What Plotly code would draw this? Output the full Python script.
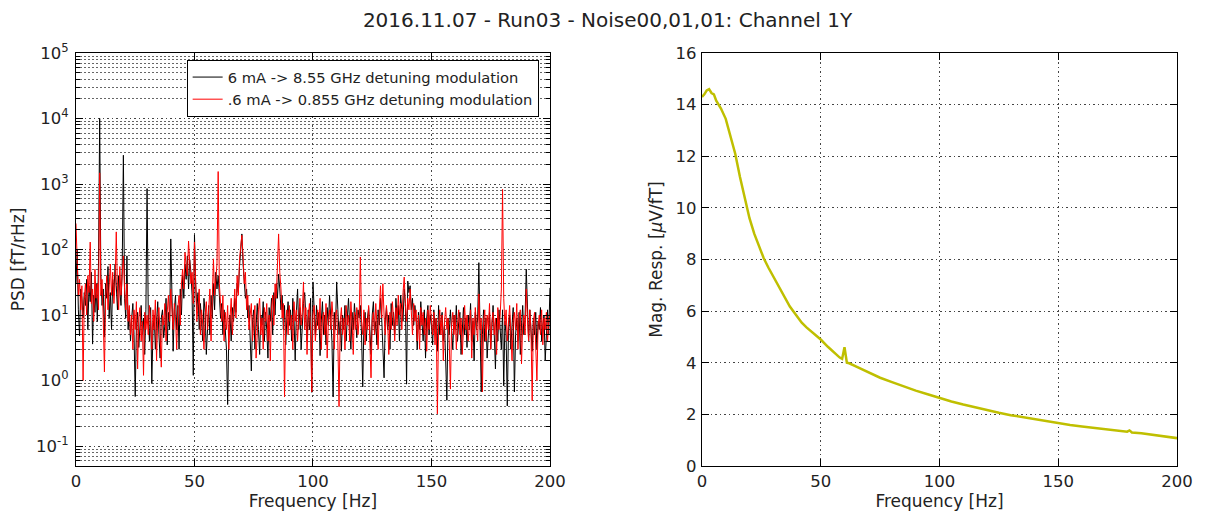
import numpy as np
import plotly.graph_objects as go

# PSD spectra, 0.5 Hz bins from 0 to 200 Hz
freq = np.arange(0, 200.5, 0.5)

psd_6mA = [
    30, 100, 12, 4.8, 25, 18, 9, 22, 14, 35, 6, 28, 16, 45, 3.6, 20, 11, 30, 8, 60,
    10000, 40, 14, 25, 4.6, 30, 18, 55, 9, 22, 6, 35, 20, 60, 28, 12, 40, 24, 14, 50,
    2750, 18, 9, 80, 6, 12, 4, 9, 15, 5, 0.57, 7, 11, 3.2, 8, 14, 5, 9, 2.5, 12,
    850, 10, 4, 13, 0.9, 6, 10, 3, 8, 16, 5, 2.2, 9, 12, 4.5, 7, 18, 3.5, 11, 6,
    145, 8, 2.8, 12, 20, 6, 14, 3, 25, 10, 40, 18, 60, 35, 80, 25, 70, 45, 20, 1.2,
    167, 30, 12, 22, 6, 15, 9, 4, 18, 11, 2.5, 8, 14, 5, 20, 9, 30, 12, 45, 25,
    40, 20, 9, 15, 5, 12, 7, 3, 0.43, 6, 10, 4, 13, 8, 18, 11, 30, 22, 55, 90,
    173, 60, 35, 18, 25, 9, 14, 5, 1.4, 8, 12, 3, 9, 15, 6, 2.5, 10, 7, 16, 4,
    11, 6, 2.2, 13, 8, 18, 5, 22, 10, 30, 18, 42, 25, 12, 20, 6, 14, 3.5, 9, 16,
    7, 12, 4, 18, 9, 2, 11, 25, 6, 13, 3, 9, 15, 22, 8, 4, 12, 6, 18, 0.66,
    32, 9, 5, 14, 7, 11, 2.4, 8, 16, 5, 10, 3.5, 13, 7, 20, 9, 4, 0.56, 11, 6,
    32, 12, 5, 8, 2.8, 10, 6, 14, 4, 9, 18, 7, 3, 11, 6, 15, 8, 4.5, 12, 9,
    14, 5, 0.8, 7, 11, 4, 9, 13, 6, 2.5, 10, 16, 5, 8, 3.5, 12, 7, 18, 9, 4,
    1.1, 8, 13, 6, 10, 3, 15, 7, 11, 5, 18, 9, 14, 4, 20, 12, 8, 25, 15, 0.88,
    33, 22, 28, 12, 18, 7, 14, 9, 3, 11, 6, 16, 8, 4, 12, 2.2, 9, 14, 5, 10,
    7, 3.5, 12, 6, 9, 2.8, 14, 5, 8, 11, 4, 7, 2, 0.5, 9, 5, 12, 6, 3, 10,
    6, 14, 4, 8, 11, 2.5, 7, 13, 5, 9, 3.2, 10, 6, 15, 4, 8, 2, 11, 6, 9,
    63, 8, 0.67, 5, 12, 4, 9, 2.2, 7, 11, 3, 6, 14, 5, 1.5, 9, 4, 12, 7, 3,
    12, 0.83, 8, 5, 0.41, 6, 10, 3, 7, 13, 0.67, 5, 9, 4, 11, 2.5, 7, 14, 5, 9,
    50, 8, 4, 12, 6, 2.8, 9, 5, 11, 3, 8, 6, 13, 4, 7, 10, 2, 6, 12, 5,
    26,
]

psd_06mA = [
    250, 45, 20, 35, 12, 28, 1.0, 18, 30, 10, 40, 22, 130, 15, 25, 8, 50, 18, 30, 12,
    1480, 20, 35, 9, 1.35, 18, 40, 12, 28, 60, 20, 45, 15, 30, 186, 25, 12, 55, 20, 35,
    80, 25, 12, 30, 8, 14, 5, 10, 3, 12, 6, 16, 1.5, 9, 13, 4, 8, 1.2, 11, 6,
    10, 5, 14, 8, 3, 12, 6, 17, 2, 9, 13, 5, 1.6, 10, 7, 15, 4, 11, 20, 8,
    25, 12, 6, 15, 9, 3, 13, 20, 7, 30, 50, 25, 90, 55, 40, 135, 60, 30, 45, 15,
    130, 20, 8, 14, 25, 5, 12, 7, 3, 10, 16, 6, 11, 25, 4, 14, 72, 20, 35, 60,
    1550, 30, 15, 8, 20, 4, 11, 6, 14, 3, 9, 18, 5, 12, 25, 9, 40, 20, 70, 110,
    165, 80, 30, 45, 12, 20, 6, 10, 15, 4, 9, 14, 2.2, 7, 12, 18, 5, 9, 3, 13,
    8, 15, 4, 10, 2, 12, 20, 7, 30, 18, 60, 173, 45, 25, 9, 15, 0.56, 8, 12, 5,
    14, 6, 10, 3, 16, 8, 12, 4, 9, 18, 7, 11, 32, 6, 13, 2.5, 9, 15, 5, 0.67,
    10, 14, 4, 8, 12, 6, 18, 3, 9, 11, 5, 15, 2.2, 8, 12, 6, 16, 9, 3, 10,
    12, 4, 0.4, 8, 13, 5, 9, 3, 14, 7, 10, 4, 16, 8, 2.5, 11, 6, 13, 5, 9,
    77, 8, 5, 12, 3.5, 9, 6, 14, 4, 1.1, 8, 11, 5, 15, 7, 3, 12, 28, 9, 30,
    10, 5, 14, 8, 2.5, 11, 6, 16, 9, 4, 13, 7, 20, 10, 15, 6, 22, 38, 14, 8,
    18, 12, 25, 9, 5, 15, 8, 12, 4, 10, 3, 13, 7, 11, 5, 9, 2.8, 12, 6, 14,
    8, 5, 11, 3.5, 9, 0.31, 7, 12, 5, 10, 2, 8, 13, 6, 9, 4, 0.74, 7, 11, 5,
    10, 3, 7, 12, 5, 9, 2.5, 8, 14, 6, 10, 4, 7, 12, 2.2, 9, 5, 13, 7, 4,
    21, 6, 9, 0.67, 8, 12, 4, 10, 6, 15, 3, 8, 11, 5, 9, 2.5, 13, 6, 10, 25,
    830, 18, 7, 12, 4, 9, 14, 5, 2, 8, 11, 6, 15, 3, 9, 12, 1.8, 7, 10, 5,
    25, 9, 4, 12, 6, 0.49, 8, 11, 3, 0.99, 7, 10, 5, 12, 3.5, 9, 6, 11, 4, 8,
    10,
]

# magnitude response
freq_resp = [0, 1, 2, 3, 4, 5, 6, 8, 10, 12, 14, 16, 18, 20, 22, 24, 26, 28, 30, 32,
             35, 37, 40, 42, 44, 46, 48, 50, 53, 56, 58, 59, 60, 61, 62, 65, 70, 75, 80, 85, 90,
             95, 100, 105, 110, 115, 120, 125, 130, 135, 140, 145, 150, 155, 160, 165, 170,
             175, 178, 179, 180, 181, 185, 190, 195, 200]
mag_resp = [14.3, 14.4, 14.55, 14.6, 14.45, 14.4, 14.15, 13.85, 13.45, 12.8, 12.1, 11.2, 10.4, 9.6,
            9.0, 8.5, 8.05, 7.68, 7.35, 7.0, 6.5, 6.18, 5.8, 5.55, 5.37, 5.22, 5.07, 4.9, 4.62,
            4.35, 4.2, 4.15, 4.6, 4.0, 3.98, 3.85, 3.62, 3.42, 3.25, 3.08, 2.92, 2.78, 2.63,
            2.5, 2.38, 2.27, 2.17, 2.06, 1.97, 1.89, 1.81, 1.73, 1.66, 1.59, 1.53, 1.48,
            1.43, 1.38, 1.35, 1.33, 1.38, 1.3, 1.27, 1.21, 1.15, 1.08]

font = "DejaVu Sans"

fig = go.Figure()
fig.add_trace(go.Scatter(x=freq, y=psd_6mA, mode="lines", line=dict(color="black", width=1),
                         name="6 mA -> 8.55 GHz detuning modulation", xaxis="x", yaxis="y"))
fig.add_trace(go.Scatter(x=freq, y=psd_06mA, mode="lines", line=dict(color="red", width=1),
                         name=".6 mA -> 0.855 GHz detuning modulation", xaxis="x", yaxis="y"))
fig.add_trace(go.Scatter(x=freq_resp, y=mag_resp, mode="lines", line=dict(color="#bfbf00", width=2.5),
                         showlegend=False, xaxis="x2", yaxis="y2"))

decades = [0.1, 1, 10, 100, 1000, 10000, 100000]
dec_text = ["10<sup>-1</sup>", "10<sup>0</sup>", "10<sup>1</sup>", "10<sup>2</sup>",
            "10<sup>3</sup>", "10<sup>4</sup>", "10<sup>5</sup>"]
minor_vals = [m * d for d in [0.01, 0.1, 1, 10, 100, 1000, 10000] for m in range(2, 10)]

axis_common = dict(showline=True, linecolor="black", linewidth=1.2, mirror="ticks",
                   ticks="inside", ticklen=7, tickcolor="black", zeroline=False, automargin=False,
                   showgrid=True, gridcolor="#444", griddash="1.5px,3px", gridwidth=0.8,
                   tickfont=dict(family=font, size=16.5, color="#222"))

# page body adds an 8px margin, so the figure is sized 8px smaller
fig.update_layout(
    width=1199, height=508,
    margin=dict(l=0, r=0, t=0, b=0),
    paper_bgcolor="white", plot_bgcolor="white",
    font=dict(family=font, color="#222"),
    title=dict(text="2016.11.07 - Run03 - Noise00,01,01: Channel 1Y", x=0.5, xanchor="center",
               y=0.9754, yanchor="middle", font=dict(family=font, size=20, color="#222")),
    xaxis=dict(domain=[0.0567, 0.452], range=[0, 200], tickvals=[0, 50, 100, 150, 200],
               title=dict(text="Frequency [Hz]", font=dict(size=17), standoff=4),
               anchor="y", **axis_common),
    yaxis=dict(domain=[0.0984, 0.9114], type="log", range=[-1.305, 5],
               tickvals=decades, ticktext=dec_text, ticklabelstandoff=3,
               minor=dict(tickvals=minor_vals, ticks="inside", ticklen=4, tickcolor="black",
                          showgrid=True, gridcolor="#666", griddash="2px,2px", gridwidth=0.6),
               title=dict(text="PSD [fT/rHz]", font=dict(size=17), standoff=8),
               anchor="x", **axis_common),
    xaxis2=dict(domain=[0.5788, 0.975], range=[0, 200], tickvals=[0, 50, 100, 150, 200],
                title=dict(text="Frequency [Hz]", font=dict(size=17), standoff=4),
                anchor="y2", **axis_common),
    yaxis2=dict(domain=[0.0984, 0.9114], range=[0, 16], tickvals=list(range(0, 17, 2)),
                ticklabelstandoff=1,
                title=dict(text="Mag. Resp. [<i>μ</i>V/fT]", font=dict(size=17), standoff=8),
                anchor="x2", **axis_common),
    legend=dict(x=0.149, y=0.8976, xanchor="left", yanchor="top", bgcolor="white",
                bordercolor="black", borderwidth=1, font=dict(family=font, size=14.7, color="#222"),
                tracegroupgap=0),
)

fig.write_html("out.html")
